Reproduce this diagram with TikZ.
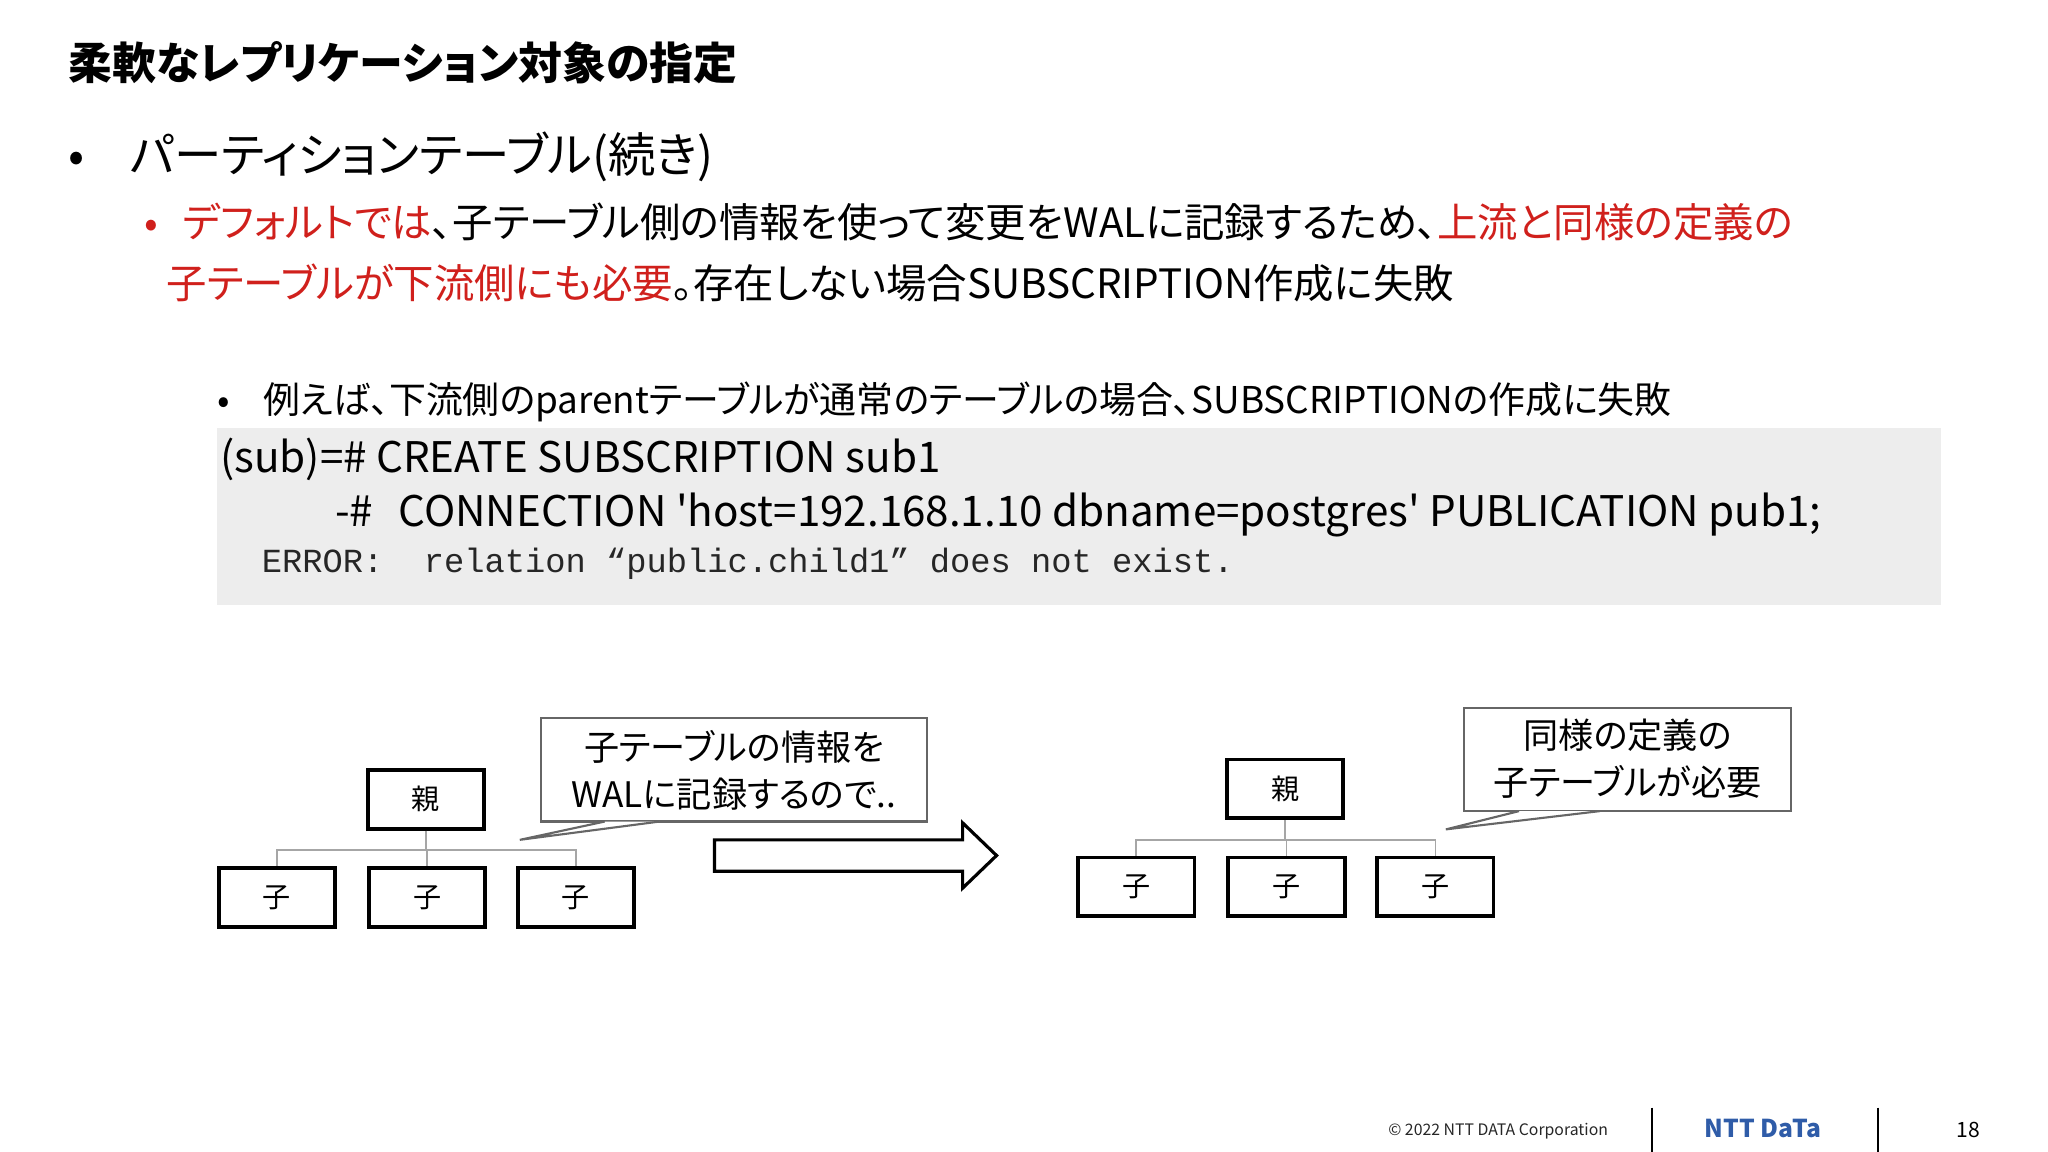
\documentclass[tikz,border=0pt]{standalone}
\usepackage{fontspec}
\setmainfont[RawFeature=+palt]{Noto Sans CJK JP}
\setmonofont{Liberation Mono}
\definecolor{nttred}{HTML}{D0201C}
\definecolor{codebg}{HTML}{EDEDED}
\definecolor{nttblue}{HTML}{2F5CA8}
\begin{document}
\begin{tikzpicture}[x=0.01306cm,y=-0.01306cm,inner sep=0pt]
\tikzset{tbl/.style={draw,line width=1.1pt,minimum width=0.01306cm*89,minimum height=0.01306cm*45,font=\fontsize{8}{9}\selectfont},
  link/.style={draw=gray!70,line width=0.5pt},
  note/.style={draw=gray!80!black,line width=0.6pt,fill=white}}
\useasboundingbox (0,0) rectangle (1568,882);
% title and bullets
\node[anchor=west,font=\fontsize{12.5}{14}\selectfont\bfseries] (T) at (52,48) {柔軟なレプリケーション対象の指定};
\node[anchor=west,font=\fontsize{13.5}{16}\selectfont] (B1) at (52,120) {•\hspace{0.95em}パーティションテーブル(続き)};
\node[anchor=west,font=\fontsize{11.5}{13}\selectfont] (B2) at (110,170) {\textcolor{nttred}{•\hspace{0.6em}デフォルトでは}、子テーブル側の情報を使って変更をWALに記録するため、\textcolor{nttred}{上流と同様の定義の}};
\node[anchor=west,font=\fontsize{11.5}{13}\selectfont] (B2b) at (127,217) {\textcolor{nttred}{子テーブルが下流側にも必要}。存在しない場合SUBSCRIPTION作成に失敗};
\node[anchor=west,font=\fontsize{10.5}{12}\selectfont] (B3) at (166,308) {•\hspace{0.9em}例えば、下流側のparentテーブルが通常のテーブルの場合、SUBSCRIPTIONの作成に失敗};
% code block
\fill[codebg] (166,328) rectangle (1486,463);
\node[anchor=west,font=\fontsize{12}{14}\selectfont] (C1) at (168,352) {(sub)=\# CREATE SUBSCRIPTION sub1};
\node[anchor=west,font=\fontsize{12}{14}\selectfont] (C2) at (256,394) {-\#\hspace{0.6em}CONNECTION \textquotesingle host=192.168.1.10 dbname=postgres\textquotesingle{} PUBLICATION pub1;};
\node[anchor=west,font=\fontsize{9.6}{11}\ttfamily,text=gray!30!black] (C3) at (200,432) {ERROR:\hspace{1.2em}relation “public.child1” does not exist.};
% left tree
\node[tbl] (p1) at (326,612) {親};
\node[tbl] (c11) at (212,687) {子};
\node[tbl] (c12) at (327,687) {子};
\node[tbl] (c13) at (441,687) {子};
\draw[link] (p1.south) -- ++(0,15) coordinate (h1);
\draw[link] (c11.north) |- (h1) -| (c13.north) (c12.north) -- (h1 -| c12.north);
% left note
\draw[note] (414,550) rectangle (710,629);
\node[align=center,font=\fontsize{10}{13.5}\selectfont] (n1) at (562,590) {子テーブルの情報を\\WALに記録するので..};
\draw[note] (463,629) -- (398,643) -- (505,629);
% block arrow
\draw[line width=0.9pt,fill=white] (547,643) -- (737,643) -- (737,630) -- (763,655) -- (737,680) -- (737,667) -- (547,667) -- cycle;
% right tree
\node[tbl] (p2) at (984,604) {親};
\node[tbl] (c21) at (870,679) {子};
\node[tbl] (c22) at (985,679) {子};
\node[tbl] (c23) at (1099,679) {子};
\draw[link] (p2.south) -- ++(0,15) coordinate (h2);
\draw[link] (c21.north) |- (h2) -| (c23.north) (c22.north) -- (h2 -| c22.north);
% right note
\draw[note] (1121,542) rectangle (1371,621);
\node[align=center,font=\fontsize{10}{13.5}\selectfont] (n2) at (1246,581) {同様の定義の\\子テーブルが必要};
\draw[note] (1163,621) -- (1107,635) -- (1225,621);
% footer
\node[font=\fontsize{4.5}{5}\selectfont,text=gray!30!black] (F) at (1147,866) {© 2022 NTT DATA Corporation};
\draw[line width=0.6pt] (1265,848) -- (1265,882) (1438,848) -- (1438,882);
\node[font=\fontsize{7}{8}\selectfont\bfseries,text=nttblue] (L) at (1350,864) {NTT DaTa};
\node[font=\fontsize{6}{7}\selectfont] (P) at (1507,865) {18};
\end{tikzpicture}
\end{document}
